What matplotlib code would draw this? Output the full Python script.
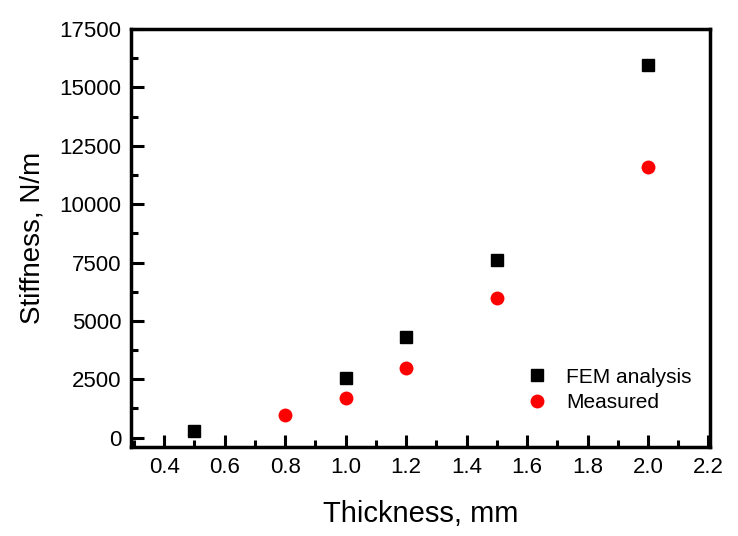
import matplotlib
matplotlib.use("Agg")
import matplotlib.pyplot as plt
from matplotlib.ticker import MultipleLocator

plt.rcParams['font.family'] = ['Liberation Sans', 'DejaVu Sans']

# FEM analysis results
fem_thickness = [0.5, 1.0, 1.2, 1.5, 2.0]
fem_stiffness = [300, 2550, 4300, 7600, 15950]

# Measured values
meas_thickness = [0.8, 1.0, 1.2, 1.5, 2.0]
meas_stiffness = [950, 1700, 3000, 6000, 11600]

fig = plt.figure(figsize=(7.38, 5.36), dpi=100)
ax = fig.add_axes([131 / 738, 1 - 447 / 536, 579 / 738, 418 / 536])

ax.plot(fem_thickness, fem_stiffness, 's', color='black', markersize=8, label='FEM analysis')
ax.plot(meas_thickness, meas_stiffness, 'o', color='red', markersize=10,
        markeredgewidth=0, label='Measured')

ax.set_xlim(0.29, 2.205)
ax.set_ylim(-400, 17500)
ax.xaxis.set_minor_locator(MultipleLocator(0.1))
ax.yaxis.set_major_locator(MultipleLocator(2500))
ax.yaxis.set_minor_locator(MultipleLocator(1250))
ax.set_xticks([0.4, 0.6, 0.8, 1.0, 1.2, 1.4, 1.6, 1.8, 2.0, 2.2])
ax.set_xticklabels(['0.4', '0.6', '0.8', '1.0', '1.2', '1.4', '1.6', '1.8', '2.0', '2.2'])

ax.tick_params(which='both', direction='in', width=2.2, labelsize=16, top=False, right=False)
ax.tick_params(which='major', length=9, pad=7)
ax.tick_params(which='minor', length=5)
for s in ax.spines.values():
    s.set_linewidth(2.5)

ax.set_xlabel('Thickness, mm', fontsize=21, labelpad=16)
ax.set_ylabel('Stiffness, N/m', fontsize=20, labelpad=10)

ax.legend(loc='upper left', bbox_to_anchor=(0.68, 0.19), frameon=False, fontsize=15,
          handlelength=1.2, handletextpad=0.8, labelspacing=0.3,
          borderaxespad=0, borderpad=0)

fig.savefig('out.png', dpi=100)
